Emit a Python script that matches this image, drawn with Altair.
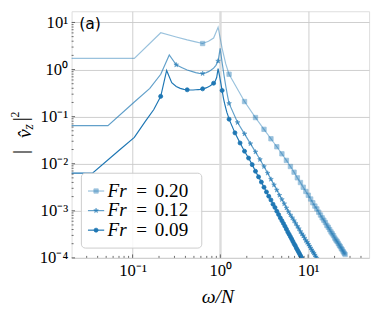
import altair as alt
import pandas as pd
import numpy as np

# ---------------- data (log10 of |v_z|^2) ----------------
legend_values = ["0.20", "0.12", "0.09"]

# Fr = 0.20 : dense low-frequency part of the line (first value stands for omega = 0)
fr020_line_omega = [0.001, 0.1047, 0.2094, 0.3142, 0.4189, 0.5236, 0.6283, 0.7330, 0.8378, 0.9425, 1.0472, 1.1519, 1.2566]
fr020_line_log10 = [0.237, 0.237, 0.782, 0.69, 0.63, 0.588, 0.553, 0.60, 0.67, 0.90, 0.45, 0.12, -0.10]
fr020_mark_omega = [0.628, 1.257, 1.885, 2.513, 3.142, 3.770, 4.398, 5.027, 5.655, 6.283, 6.912, 7.540, 8.168, 8.796,
                    9.425, 10.053, 10.681, 11.310, 11.938, 12.566, 13.195, 13.823, 14.451, 15.080, 15.708, 16.336,
                    16.965, 17.593, 18.221, 18.850, 19.478, 20.106, 20.735, 21.363, 21.991, 22.619, 23.248, 23.876,
                    24.504, 25.133, 25.761, 26.389]
fr020_mark_log10 = [0.553, -0.10, -0.68, -1.02, -1.27, -1.47, -1.64, -1.79, -1.93, -2.06, -2.18, -2.30, -2.40, -2.50,
                    -2.59, -2.67, -2.75, -2.83, -2.90, -2.96, -3.03, -3.09, -3.15, -3.20, -3.25, -3.31, -3.35, -3.40,
                    -3.45, -3.49, -3.53, -3.58, -3.62, -3.65, -3.69, -3.73, -3.76, -3.80, -3.83, -3.87, -3.90, -3.93]

# Fr = 0.12
fr012_line_omega = [0.001, 0.0524, 0.1047, 0.1571, 0.2094, 0.2618, 0.3142, 0.3665, 0.4189, 0.4712, 0.5236, 0.5760,
                    0.6283, 0.6807, 0.7330, 0.7854, 0.8378, 0.8901, 0.9425, 0.9948, 1.0472, 1.0996, 1.1519, 1.2043, 1.2566]
fr012_line_log10 = [-1.19, -1.19, -0.69, -0.40, -0.10, 0.31, 0.10, 0.04, -0.01, -0.04, -0.065, -0.08,
                    -0.085, -0.07, -0.045, -0.01, 0.03, 0.09, 0.18, 0.45, 0.15, -0.12, -0.35, -0.55, -0.72]
fr012_mark_omega = [0.314, 0.628, 0.942, 1.257, 1.571, 1.885, 2.199, 2.513, 2.827, 3.142, 3.456, 3.770, 4.084, 4.398,
                    4.712, 5.027, 5.341, 5.655, 5.969, 6.283, 6.597, 6.912, 7.226, 7.540, 7.854, 8.168, 8.482, 8.796,
                    9.111, 9.425, 9.739, 10.053, 10.367, 10.681, 10.996, 11.310, 11.624, 11.938, 12.252, 12.566,
                    12.881, 13.195]
fr012_mark_log10 = [0.10, -0.085, 0.18, -0.72, -1.125, -1.366, -1.574, -1.75, -1.91, -2.06, -2.20, -2.33, -2.45, -2.56,
                    -2.67, -2.76, -2.85, -2.94, -3.02, -3.09, -3.15, -3.21, -3.27, -3.33, -3.38, -3.44, -3.49, -3.53,
                    -3.58, -3.63, -3.67, -3.71, -3.75, -3.79, -3.83, -3.87, -3.90, -3.94, -3.98, -4.01, -4.04, -4.07]

# Fr = 0.09
fr009_line_omega = [0.001, 0.0349, 0.0698, 0.1047, 0.1396, 0.1745, 0.2094, 0.2443, 0.2793, 0.3142, 0.3491, 0.3840,
                    0.4189, 0.4538, 0.4887, 0.5236, 0.5585, 0.5934, 0.6283, 0.6632, 0.6981, 0.7330, 0.7679, 0.8029,
                    0.8378, 0.8727, 0.9076, 0.9425, 0.9774, 1.0123, 1.0472, 1.0821, 1.1170, 1.1519, 1.1868, 1.2217, 1.2566]
fr009_line_log10 = [-2.20, -2.20, -1.72, -1.44, -1.10, -0.85, -0.57, -0.02, -0.28, -0.36, -0.40, -0.42,
                    -0.43, -0.435, -0.435, -0.43, -0.425, -0.42, -0.41, -0.40, -0.385, -0.365, -0.345, -0.32,
                    -0.29, -0.25, -0.17, 0.02, -0.13, -0.29, -0.445, -0.60, -0.72, -0.82, -0.91, -0.98, -1.054]
fr009_mark_omega = [0.209, 0.419, 0.628, 0.838, 1.047, 1.257, 1.466, 1.676, 1.885, 2.094, 2.304, 2.513, 2.723, 2.932,
                    3.142, 3.351, 3.560, 3.770, 3.979, 4.189, 4.398, 4.608, 4.817, 5.027, 5.236, 5.445, 5.655, 5.864,
                    6.074, 6.283, 6.493, 6.702, 6.912, 7.121, 7.330, 7.540, 7.749, 7.959, 8.168, 8.378, 8.587, 8.796]
fr009_mark_log10 = [-0.57, -0.43, -0.41, -0.29, -0.445, -1.054, -1.345, -1.56, -1.734, -1.88, -2.02, -2.16, -2.28, -2.39,
                    -2.50, -2.60, -2.69, -2.77, -2.86, -2.93, -3.01, -3.08, -3.15, -3.21, -3.27, -3.33, -3.39, -3.45,
                    -3.50, -3.55, -3.60, -3.65, -3.70, -3.74, -3.79, -3.83, -3.87, -3.91, -3.95, -3.99, -4.03, -4.06]

ref_omega = [1.0]

x_tick_values = [0.1, 1.0, 10.0]
x_tick_labels = ["10⁻¹", "10⁰", "10¹"]
x_minor_ticks = [0.03, 0.04, 0.05, 0.06, 0.07, 0.08, 0.09, 0.2, 0.3, 0.4, 0.5, 0.6, 0.7, 0.8, 0.9,
                 2, 3, 4, 5, 6, 7, 8, 9, 20, 30, 40]
y_tick_values = [1e-4, 1e-3, 1e-2, 1e-1, 1.0, 10.0]
y_tick_labels = ["10⁻⁴", "10⁻³", "10⁻²", "10⁻¹", "10⁰", "10¹"]
y_minor_ticks = [m * 10.0 ** e for e in range(-4, 1) for m in range(2, 10)]

# ---------------- layout / style ----------------
W, H = 304, 252
PX0, PY0 = 73, 8          # page position of the plot origin
BLUE = "#1f77b4"
STAR = ("M0,-1L0.225,-0.309L0.951,-0.309L0.363,0.118L0.588,0.809L0,0.382L-0.588,0.809"
        "L-0.363,0.118L-0.951,-0.309L-0.225,-0.309Z")
styles = [
    dict(shape="square", size=20, opacity=0.45),
    dict(shape=STAR, size=24, opacity=0.7),
    dict(shape="circle", size=17, opacity=1.0),
]
SERIF = "Liberation Serif"


def label_expr(values, labels):
    parts = [f"abs(datum.value - {v}) < {v * 0.01} ? '{l}'" for v, l in zip(values, labels)]
    return " : ".join(parts) + " : ''"


xs = alt.Scale(type="log", domain=[0.0202, 49.5], nice=False)
ys = alt.Scale(type="log", domain=[1e-4, 17.3], nice=False)

x_axis = alt.Axis(values=x_tick_values, labelExpr=label_expr(x_tick_values, x_tick_labels),
                  title="ω/N", titleFont=SERIF, titleFontStyle="italic", titleFontSize=20,
                  titleFontWeight="normal", titleColor="black", titleX=149, titleY=46,
                  titleBaseline="alphabetic", titleAlign="center",
                  labelFont=SERIF, labelFontSize=17, labelColor="black", labelPadding=5,
                  tickSize=0, domain=False, grid=True, gridColor="#c8c8c8", gridWidth=0.9,
                  labelFlush=False, labelOverlap=False)
y_axis = alt.Axis(values=y_tick_values, labelExpr=label_expr(y_tick_values, y_tick_labels),
                  title=None, labelFont=SERIF, labelFontSize=17, labelColor="black", labelPadding=4,
                  tickSize=0, domain=False, grid=True, gridColor="#c8c8c8", gridWidth=0.9,
                  labelFlush=False, labelOverlap=False)

X = lambda f: alt.X(f"{f}:Q", scale=xs, axis=x_axis)
Y = lambda f: alt.Y(f"{f}:Q", scale=ys, axis=y_axis)

layers = []
layers.append(alt.Chart(pd.DataFrame({"omega": ref_omega})).mark_rule(color="#dcdcdc", strokeWidth=2.2)
              .encode(x=X("omega")))

series_data = [
    (fr020_line_omega, fr020_line_log10, fr020_mark_omega, fr020_mark_log10),
    (fr012_line_omega, fr012_line_log10, fr012_mark_omega, fr012_mark_log10),
    (fr009_line_omega, fr009_line_log10, fr009_mark_omega, fr009_mark_log10),
]

for (lw, lv, mw, mv), st in zip(series_data, styles):
    tail = [(w, v) for w, v in zip(mw, mv) if w > lw[-1] + 1e-3]
    line_w = list(lw) + [t[0] for t in tail]
    line_v = list(lv) + [t[1] for t in tail]
    ldf = pd.DataFrame({"omega": line_w, "psd": np.power(10.0, line_v), "order": range(len(line_w))})
    mdf = pd.DataFrame({"omega": mw, "psd": np.power(10.0, mv)})
    layers.append(alt.Chart(ldf).mark_line(color=BLUE, strokeWidth=1.2, opacity=st["opacity"], clip=True)
                  .encode(x=X("omega"), y=Y("psd"), order="order:Q"))
    layers.append(alt.Chart(mdf).mark_point(filled=True, shape=st["shape"], size=st["size"], color=BLUE,
                                            stroke=BLUE, strokeWidth=0.8, opacity=st["opacity"], clip=True)
                  .encode(x=X("omega"), y=Y("psd")))

# inward ticks
for vals, ln in [(x_tick_values, 3.5), (x_minor_ticks, 2.0)]:
    layers.append(alt.Chart(pd.DataFrame({"t": vals})).mark_rule(color="#444444", strokeWidth=0.8)
                  .encode(x=X("t"), y=alt.value(H), y2=alt.value(H - ln)))
for vals, ln in [(y_tick_values, 3.5), (y_minor_ticks, 2.0)]:
    layers.append(alt.Chart(pd.DataFrame({"t": vals})).mark_rule(color="#444444", strokeWidth=0.8)
                  .encode(y=Y("t"), x=alt.value(0), x2=alt.value(ln)))

dummy = pd.DataFrame({"d": [0]})


def txt(s, x, y, size, font=SERIF, style="normal", angle=0, align="left", baseline="alphabetic"):
    kw = dict(text=s, font=font, fontSize=size, fontStyle=style, align=align, baseline=baseline, color="black")
    if angle:
        kw["angle"] = angle
    return alt.Chart(dummy).mark_text(**kw).encode(x=alt.value(x - PX0), y=alt.value(y - PY0))


# legend box
layers.append(alt.Chart(dummy).mark_rect(fill="white", fillOpacity=0.85, stroke="#cccccc", strokeWidth=1,
                                         cornerRadius=4)
              .encode(x=alt.value(83 - PX0), x2=alt.value(206 - PX0),
                      y=alt.value(173.5 - PY0), y2=alt.value(250 - PY0)))
for i, (val, st) in enumerate(zip(legend_values, styles)):
    yc = 191.7 + 20 * i
    layers.append(alt.Chart(dummy).mark_rule(color=BLUE, strokeWidth=1.2, opacity=st["opacity"])
                  .encode(x=alt.value(89.7 - PX0), x2=alt.value(106.3 - PX0), y=alt.value(yc - PY0)))
    layers.append(alt.Chart(dummy).mark_point(filled=True, shape=st["shape"], size=st["size"], color=BLUE,
                                              stroke=BLUE, strokeWidth=0.8, opacity=st["opacity"])
                  .encode(x=alt.value(98 - PX0), y=alt.value(yc - PY0)))
    layers.append(txt("Fr", 109.7, yc + 6, 19.5, style="italic"))
    layers.append(txt("=", 139, yc + 6, 19.5))
    layers.append(txt(val, 158, yc + 6, 19.5))

# panel tag
layers.append(txt("(a)", 80.7, 26.3, 16, font="DejaVu Sans"))

# y title |v_z|^2 built from rotated pieces
layers.append(txt("|", 27.7, 151.7, 21, angle=270, align="center"))
layers.append(txt("|", 27.7, 118.3, 21, angle=270, align="center"))
layers.append(txt("v\u0302", 31, 133, 20, style="italic", angle=270, align="center"))
layers.append(txt("z", 34, 126, 14, style="italic", angle=270, align="center"))
layers.append(txt("2", 19, 113.5, 12, angle=270, align="center"))

chart = alt.layer(*layers).properties(
    width=W, height=H,
    autosize=alt.AutoSizeParams(type="none"),
    padding={"left": 65, "top": 0, "right": 5, "bottom": 52},
).configure_view(stroke="#555555", strokeWidth=1).configure(background="white")

chart.save("out.html", embed_options={"renderer": "svg", "actions": False})
